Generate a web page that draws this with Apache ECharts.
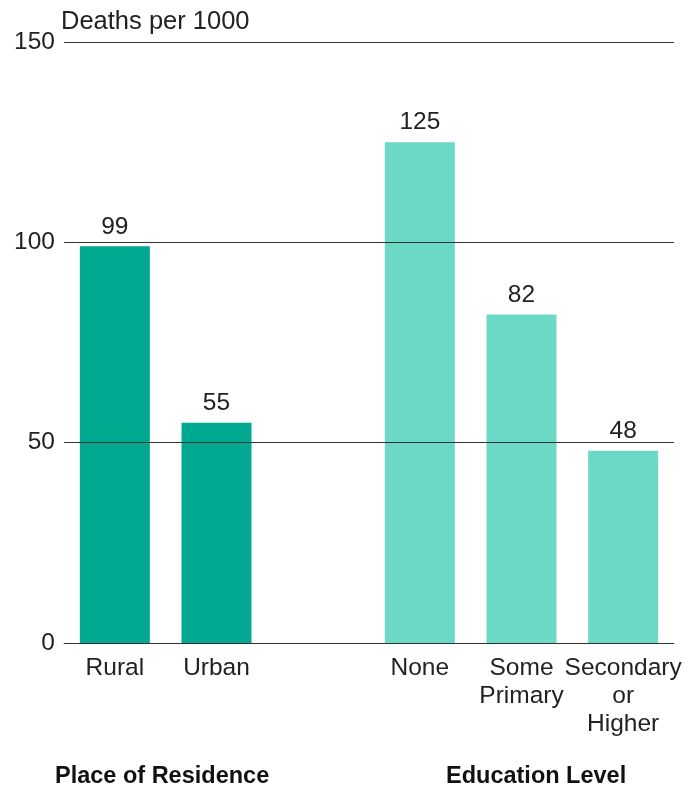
<!DOCTYPE html>
<html><head><meta charset="utf-8">
<script src="https://cdn.jsdelivr.net/npm/echarts@6/dist/echarts.min.js"></script>
<style>html,body{margin:0;padding:0;background:#fff}#c{width:699px;height:789px}</style>
</head><body><div id="c"></div>
<script>
const categories = ['Rural', 'Urban', '', 'None', 'Some\nPrimary', 'Secondary\nor\nHigher'];
const values = [99, 55, null, 125, 82, 48];
const groupOfCategory = [0, 0, null, 1, 1, 1];
const groupNames = ['Place of Residence', 'Education Level'];
const groupColors = ['#00a98f', '#6cd8c6'];
const yTicks = { min: 0, max: 150, interval: 50 };
const yAxisTitle = 'Deaths per 1000';

const FONT = '"Liberation Sans", Arial, sans-serif';
const chart = echarts.init(document.getElementById('c'), null, { renderer: 'canvas' });
chart.setOption({
  animation: false,
  backgroundColor: '#ffffff',
  grid: { left: 64, right: 25, top: 42, bottom: 146, containLabel: false },
  xAxis: {
    type: 'category',
    data: categories,
    axisLine: { show: true, lineStyle: { color: '#777', width: 1 } },
    axisTick: { show: false },
    axisLabel: { color: '#222', fontFamily: FONT, fontSize: 24.5, lineHeight: 28, margin: 11, interval: 0 },
    splitLine: { show: false }
  },
  yAxis: {
    type: 'value',
    min: yTicks.min, max: yTicks.max, interval: yTicks.interval,
    z: 5,
    name: yAxisTitle,
    nameLocation: 'end',
    nameGap: 7,
    nameTextStyle: { color: '#222', fontFamily: FONT, fontSize: 25.5, align: 'left', padding: [0, 0, 0, -3] },
    axisLine: { show: false },
    axisTick: { show: false },
    axisLabel: { color: '#222', fontFamily: FONT, fontSize: 24.5, margin: 9 },
    splitLine: { show: true, lineStyle: { color: '#333', width: 1 } }
  },
  series: [{
    type: 'bar',
    barWidth: 70,
    z: 2,
    data: values.map((v, i) => ({
      value: v,
      itemStyle: { color: groupOfCategory[i] === null ? 'transparent' : groupColors[groupOfCategory[i]] }
    })),
    label: {
      show: true, position: 'top', distance: 7,
      color: '#222', fontFamily: FONT, fontSize: 24.5,
      formatter: p => (p.value == null ? '' : String(p.value))
    }
  }],
  graphic: [
    { type: 'text', left: 55, top: 765, style: { text: groupNames[0], font: 'bold 23.5px ' + FONT, fill: '#111' } },
    { type: 'text', left: 446, top: 765, style: { text: groupNames[1], font: 'bold 23.5px ' + FONT, fill: '#111' } }
  ]
});
</script></body></html>
